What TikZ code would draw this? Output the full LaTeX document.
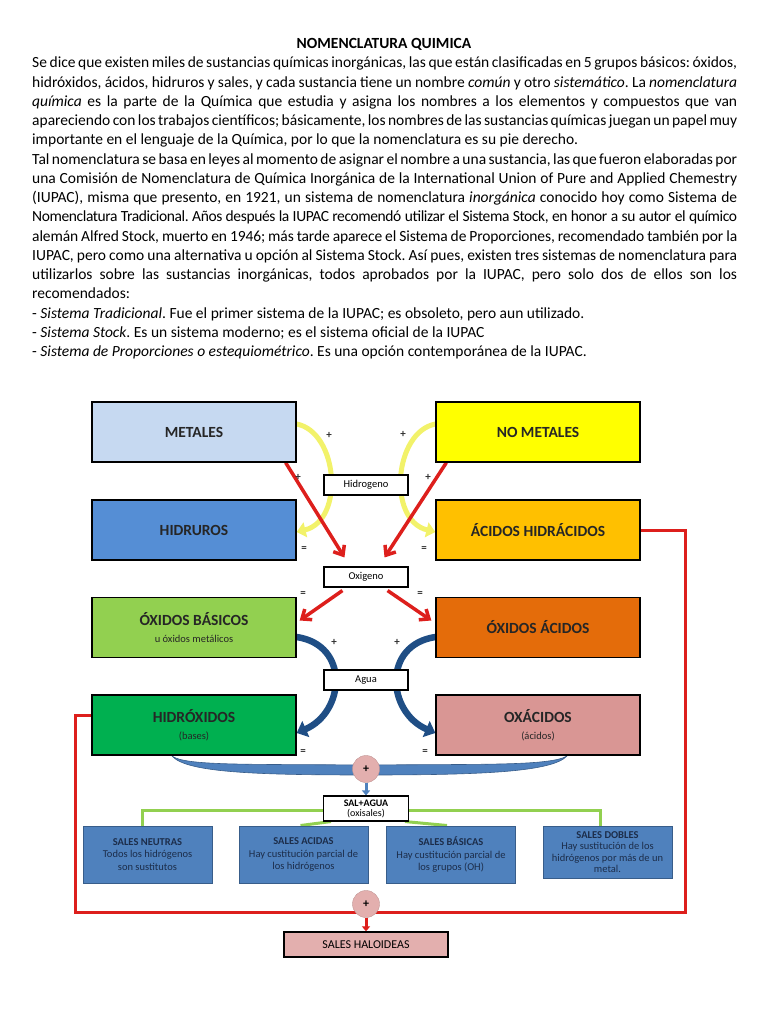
\documentclass[tikz,border=0pt]{standalone}
\usepackage{fontspec}
\setmainfont{Carlito}
\usetikzlibrary{arrows.meta,backgrounds}
\definecolor{cMetal}{HTML}{C6D9F1}
\definecolor{cNoMetal}{HTML}{FFFF00}
\definecolor{cHidruro}{HTML}{558ED5}
\definecolor{cHidracido}{HTML}{FFC000}
\definecolor{cOxBas}{HTML}{92D050}
\definecolor{cOxAc}{HTML}{E46C0A}
\definecolor{cHidroxido}{HTML}{00B050}
\definecolor{cOxacido}{HTML}{D99694}
\definecolor{cSal}{HTML}{4F81BD}
\definecolor{cSalLine}{HTML}{385D8A}
\definecolor{cSalText}{HTML}{1C2D4A}
\definecolor{cPink}{HTML}{E3AFAE}
\definecolor{cRed}{HTML}{DD1F1C}
\definecolor{cNavy}{HTML}{1F4E85}
\definecolor{cYellow}{HTML}{F2F26A}
\definecolor{cGreen}{HTML}{92D050}
\begin{document}
\begin{tikzpicture}[x=1pt, y=-1pt,
  bigbox/.style={draw=black, line width=1.3pt, minimum width=204pt, minimum height=60pt, inner sep=2pt, align=center, text=black!85, font=\bfseries\fontsize{15.5}{18}\selectfont},
  smallbox/.style={draw=black, line width=1.1pt, fill=white, minimum width=84pt, minimum height=20pt, inner sep=1pt, font=\fontsize{10.5}{12}\selectfont},
  salbox/.style={draw=cSalLine, line width=1pt, fill=cSal, minimum width=129pt, minimum height=57pt, inner sep=2pt, align=center, text=cSalText, font=\fontsize{10.5}{12.5}\selectfont},
  sign/.style={inner sep=0pt, font=\bfseries\fontsize{11}{11}\selectfont, text=black!80},
  plusdot/.style={circle, fill=cPink, draw=cPink!85!black, line width=0.4pt, minimum size=27pt, inner sep=0pt, font=\bfseries\fontsize{12}{12}\selectfont},
  yarrow/.style={cYellow, line width=5pt, -{Triangle[width=15pt,length=9pt]}},
  rarrow/.style={cRed, line width=3.5pt, -{Straight Barb[width=13pt,length=8pt]}},
  barrow/.style={cNavy, line width=6.5pt, -{Triangle[width=17pt,length=10pt]}},
  gline/.style={cGreen, line width=3pt},
  rloop/.style={cRed, line width=3pt}]
  \useasboundingbox (0,0) rectangle (768,1024);

  \node[anchor=base, font=\bfseries\fontsize{15.5}{19}\selectfont] (title) at (384,48.5) {NOMENCLATURA QUIMICA};
  \node[anchor=north west, inner sep=0pt, text width=705pt, align=justify, font=\fontsize{15.5}{19.25}\selectfont] (para) at (32,57) {\parindent=0pt\frenchspacing
    Se dice que existen miles de sustancias químicas inorgánicas, las que están clasificadas en 5 grupos básicos: óxidos,\linebreak
    hidróxidos, ácidos, hidruros y sales, y cada sustancia tiene un nombre \emph{común} y otro \emph{sistemático}. La \emph{nomenclatura}\linebreak
    \emph{química} es la parte de la Química que estudia y asigna los nombres a los elementos y compuestos que van\linebreak
    apareciendo con los trabajos científicos; básicamente, los nombres de las sustancias químicas juegan un papel muy\linebreak
    importante en el lenguaje de la Química, por lo que la nomenclatura es su pie derecho.\par
    Tal nomenclatura se basa en leyes al momento de asignar el nombre a una sustancia, las que fueron elaboradas por\linebreak
    una Comisión de Nomenclatura de Química Inorgánica de la International Union of Pure and Applied Chemestry\linebreak
    (IUPAC), misma que presento, en 1921, un sistema de nomenclatura \emph{inorgánica} conocido hoy como Sistema de\linebreak
    {\addfontfeatures{LetterSpace=-2.5}\spaceskip=2.6pt plus 1pt minus 1pt Nomenclatura Tradicional. Años después la IUPAC recomendó utilizar el Sistema Stock, en honor a su autor el químico}\linebreak
    {\addfontfeatures{LetterSpace=-0.8}alemán Alfred Stock, muerto en 1946; más tarde aparece el Sistema de Proporciones, recomendado también por la}\linebreak
    IUPAC, pero como una alternativa u opción al Sistema Stock. Así pues, existen tres sistemas de nomenclatura para\linebreak
    utilizarlos sobre las sustancias inorgánicas, todos aprobados por la IUPAC, pero solo dos de ellos son los\linebreak
    recomendados:\par
    - \emph{Sistema Tradicional}. Fue el primer sistema de la IUPAC; es obsoleto, pero aun utilizado.\par
    - \emph{Sistema Stock}. Es un sistema moderno; es el sistema oficial de la IUPAC\par
    - \emph{Sistema de Proporciones o estequiométrico}. Es una opción contemporánea de la IUPAC.};

  \node[bigbox, fill=cMetal] (metales) at (194,432) {METALES};
  \node[bigbox, fill=cNoMetal] (nometales) at (538,432) {NO METALES};
  \node[bigbox, fill=cHidruro] (hidruros) at (194,530) {HIDRUROS};
  \node[bigbox, fill=cHidracido] (hidracidos) at (538,530) {ÁCIDOS HIDRÁCIDOS};
  \node[bigbox, fill=cOxBas] (oxbasicos) at (194,627.5) {ÓXIDOS BÁSICOS\\[-1pt]{\mdseries\fontsize{10.5}{12}\selectfont u óxidos metálicos}};
  \node[bigbox, fill=cOxAc] (oxacidos) at (538,627.5) {ÓXIDOS ÁCIDOS};
  \node[bigbox, fill=cHidroxido] (hidroxidos) at (194,725) {HIDRÓXIDOS\\[-1pt]{\mdseries\fontsize{10.5}{12}\selectfont (bases)}};
  \node[bigbox, fill=cOxacido] (oxacids) at (538,725) {OXÁCIDOS\\[-1pt]{\mdseries\fontsize{10.5}{12}\selectfont (ácidos)}};

  \node[smallbox] (hidrogeno) at (366,485) {Hidrogeno};
  \node[smallbox] (oxigeno) at (366,577) {Oxigeno};
  \node[smallbox] (agua) at (366,680) {Agua};

  \node[sign] (pl1) at (329,435) {+};
  \node[sign] (pl2) at (403,434) {+};
  \node[sign] (pl3) at (298,477) {+};
  \node[sign] (pl4) at (428,477) {+};
  \node[sign] (eq1) at (304,549) {=};
  \node[sign] (eq2) at (424,549) {=};
  \node[sign] (eq3) at (303,594) {=};
  \node[sign] (eq4) at (420,594) {=};
  \node[sign] (pl5) at (334,642) {+};
  \node[sign] (pl6) at (397,642) {+};
  \node[sign] (eq5) at (303,752) {=};
  \node[sign] (eq6) at (425,752) {=};

  \node[plusdot] (suma1) at (366,769) {+};
  \node[smallbox, minimum width=85pt, minimum height=25pt, align=center, font=\fontsize{10}{10}\selectfont] (salagua) at (366,808.5) {\textbf{SAL+AGUA}\\(oxisales)};

  \node[salbox] (neutras) at (147.5,854.5) {{\bfseries SALES NEUTRAS}\\Todos los hidrógenos\\son sustitutos};
  \node[salbox] (acidas) at (303.5,854.5) {{\bfseries SALES ACIDAS}\\Hay custitución parcial de\\los hidrógenos};
  \node[salbox] (basicas) at (451,854.5) {{\bfseries SALES BÁSICAS}\\Hay custitución parcial de\\los grupos (OH)};
  \node[salbox, minimum height=52pt, font=\fontsize{10.5}{11.5}\selectfont] (dobles) at (607.5,852) {{\bfseries SALES DOBLES}\\Hay sustitución de los\\hidrógenos por más de un\\metal.};

  \node[plusdot] (suma2) at (366,904) {+};
  \node[draw=black, line width=1.3pt, fill=cPink, minimum width=164pt, minimum height=25pt, inner sep=1pt, font=\fontsize{12}{12}\selectfont] (haloideas) at (366,944.5) {SALES HALOIDEAS};

  \coordinate (gizq) at (142,810);
  \coordinate (gder) at (600,810);
  \coordinate (rder) at (685,912);
  \coordinate (rizq) at (75,912);

  \begin{pgfonlayer}{background}
    \draw[yarrow] ([yshift=8pt]metales.east) .. controls (338,432) and (345,520) .. ([yshift=-2pt]hidruros.east);
    \draw[yarrow] ([yshift=8pt]nometales.west) .. controls (394,432) and (387,520) .. ([yshift=-2pt]hidracidos.west);
    \draw[rarrow] ([xshift=-11pt]metales.south east) -- ([xshift=21pt,yshift=9pt]oxigeno.north west);
    \draw[rarrow] ([xshift=11pt]nometales.south west) -- ([xshift=-24pt,yshift=9pt]oxigeno.north east);
    \draw[rarrow] ([xshift=19pt,yshift=-3pt]oxigeno.south west) -- ([xshift=3pt,yshift=7pt]oxbasicos.east);
    \draw[rarrow] ([xshift=-21pt,yshift=-3pt]oxigeno.south east) -- ([xshift=-4pt,yshift=7pt]oxacidos.west);
    \draw[barrow] ([yshift=-9.5pt]oxbasicos.east) .. controls (350,645) and (345,712) .. ([yshift=-8pt]hidroxidos.east);
    \draw[barrow] ([yshift=-9.5pt]oxacidos.west) .. controls (382,645) and (387,712) .. ([yshift=-8pt]oxacids.west);
    \path[fill=cSal, draw=cSalLine, line width=0.6pt] (172,756) .. controls (185,766) and (250,764) .. (366,765) .. controls (482,764) and (550,766) .. (567,756) .. controls (552,772) and (482,775) .. (366,775) .. controls (250,775) and (186,772) .. cycle;
    \draw[cSal, line width=3pt, -{Triangle[width=8pt,length=5pt]}] (suma1.south) -- (salagua.north);
    \draw[gline] ([xshift=-5.5pt]neutras.north) -- (gizq) -- (gder) -- ([xshift=-7.5pt]dobles.north);
    \draw[gline] ([xshift=8pt]salagua.south west) -- ([xshift=-3pt]acidas.north);
    \draw[gline] ([xshift=-4pt]salagua.south east) -- ([xshift=-4pt]basicas.north);
    \draw[rloop] (hidracidos.east) -| (rder) -- (rizq) |- ([yshift=10pt]hidroxidos.west);
    \draw[cRed, line width=3pt, -{Triangle[width=8pt,length=5pt]}] (suma2.south) -- (haloideas.north);
  \end{pgfonlayer}
\end{tikzpicture}
\end{document}
